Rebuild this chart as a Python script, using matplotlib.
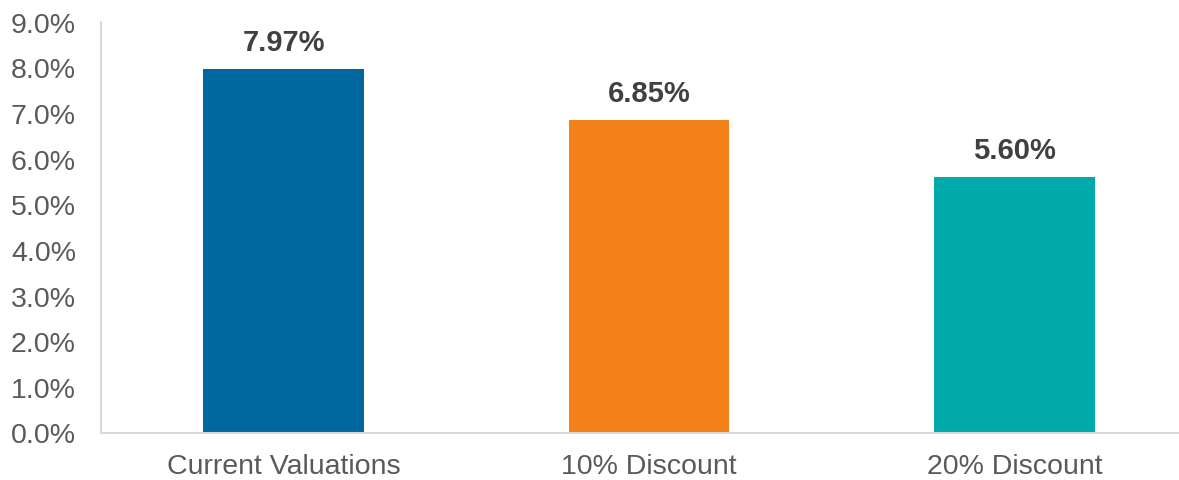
import matplotlib
matplotlib.use("Agg")
import matplotlib.pyplot as plt
from matplotlib.ticker import FuncFormatter, MultipleLocator

categories = ["Current Valuations", "10% Discount", "20% Discount"]
values = [7.97, 6.85, 5.60]
colors = ["#00689F", "#F28117", "#00AAAA"]

plt.rcParams["font.family"] = ["Liberation Sans", "DejaVu Sans"]

fig = plt.figure(figsize=(11.79, 4.81), dpi=100)
ax = fig.add_axes([101 / 1179, 1 - 433.5 / 481, 1096 / 1179, (433.5 - 22.7) / 481])

x = range(len(categories))
bars = ax.bar(x, values, width=0.44, color=colors, zorder=2)

for xi, v in zip(x, values):
    ax.annotate(f"{v:.2f}%", (xi, v), xytext=(0, 9), textcoords="offset points",
                ha="center", va="bottom", fontsize=21, fontweight="bold", color="#404040")

ax.set_xlim(-0.5, 2.5)
ax.set_ylim(0, 9)
ax.yaxis.set_major_locator(MultipleLocator(1))
ax.yaxis.set_major_formatter(FuncFormatter(lambda v, p: f"{v:.1f}%"))
ax.set_xticks(list(x))
ax.set_xticklabels(categories)

ax.tick_params(axis="both", length=0, labelsize=20.5, labelcolor="#595959")
ax.tick_params(axis="y", pad=18)
ax.tick_params(axis="x", pad=15)

for side in ("top", "right"):
    ax.spines[side].set_visible(False)
for side in ("left", "bottom"):
    ax.spines[side].set_color("#D9D9D9")
    ax.spines[side].set_linewidth(1.5)

fig.savefig("out.png", dpi=100)
